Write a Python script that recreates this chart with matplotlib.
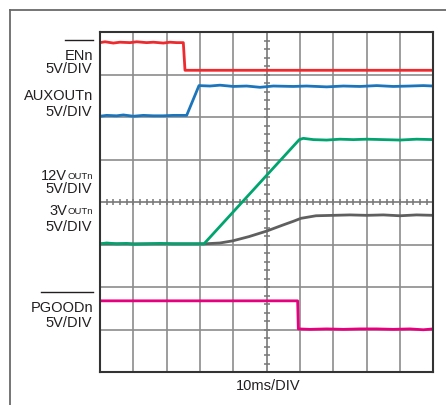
import matplotlib
matplotlib.use("Agg")
import matplotlib.pyplot as plt
from matplotlib.lines import Line2D
from matplotlib.font_manager import FontProperties
from matplotlib.textpath import TextPath
import numpy as np

plt.rcParams['font.family'] = ['Liberation Sans', 'DejaVu Sans']

# scope traces, in divisions (x: 10 div, y: 8 div from bottom)
t_en = [0, 0.15, 0.4, 0.6, 0.9, 1.1, 1.4, 1.6, 1.9, 2.1, 2.3, 2.50, 2.55, 3.0, 10]
v_en = [7.75, 7.77, 7.74, 7.76, 7.75, 7.77, 7.75, 7.76, 7.74, 7.76, 7.75, 7.75, 7.10, 7.10, 7.10]

t_aux = [0, 0.2, 0.5, 0.7, 1.0, 1.3, 1.6, 1.9, 2.2, 2.6, 2.97, 3.3, 3.6, 4.0, 4.4,
         4.8, 5.2, 5.8, 6.2, 6.8, 7.3, 7.8, 8.3, 8.8, 9.3, 9.7, 10]
v_aux = [6.02, 6.04, 6.03, 6.05, 6.02, 6.04, 6.03, 6.03, 6.04, 6.04, 6.74, 6.73, 6.75,
         6.72, 6.73, 6.70, 6.73, 6.72, 6.73, 6.71, 6.73, 6.72, 6.74, 6.72, 6.73, 6.74, 6.73]

t_12v = [0, 0.2, 0.5, 0.8, 1.0, 1.4, 1.8, 2.2, 2.6, 3.0, 3.12, 5.98, 6.1, 6.4, 6.8,
         7.2, 7.6, 8.0, 8.5, 9.0, 9.5, 10]
v_12v = [3.02, 3.04, 3.02, 3.03, 3.01, 3.02, 3.03, 3.02, 3.02, 3.02, 3.02, 5.47, 5.50,
         5.47, 5.46, 5.48, 5.47, 5.48, 5.47, 5.46, 5.48, 5.47]

t_3v = [0, 1, 2, 3.12, 3.6, 3.98, 4.47, 5.0, 5.48, 5.8, 6.03, 6.48, 7.0, 7.5, 8.0,
        8.5, 9.0, 9.5, 10]
v_3v = [3.02, 3.02, 3.02, 3.02, 3.04, 3.09, 3.19, 3.32, 3.46, 3.55, 3.62, 3.68, 3.69,
        3.70, 3.69, 3.70, 3.68, 3.70, 3.69]

t_pg = [0, 5.93, 5.95, 6.3, 6.8, 7.3, 7.8, 8.3, 8.8, 9.3, 9.7, 10]
v_pg = [1.68, 1.68, 1.02, 1.01, 1.02, 1.01, 1.02, 1.02, 1.01, 1.02, 1.00, 1.02]

# channel labels: (main text, subscript, overline skip prefix or None, baseline px)
labels = [
    ('ENn', '', '', 60),
    ('5V/DIV', '', None, 73),
    ('AUXOUTn', '', None, 99.5),
    ('5V/DIV', '', None, 116),
    ('12V', 'OUTn', None, 180),
    ('5V/DIV', '', None, 193.5),
    ('3V', 'OUTn', None, 215.5),
    ('5V/DIV', '', None, 231),
    ('PGOODn', '', 'P', 312.5),
    ('5V/DIV', '', None, 327.5),
]

W, H = 446, 406
FS = 10.5
FS_SUB = 6.8
INK = '#231f20'
FP = FontProperties(family='Liberation Sans')


def text_px(s, size):
    # ink extent of a string in pixels at 100 dpi
    ext = TextPath((0, 0), s, size=size, prop=FP).get_extents()
    return ext.x0 * 100 / 72, ext.x1 * 100 / 72


fig = plt.figure(figsize=(W / 100, H / 100), dpi=100)
ax = fig.add_axes([100 / W, 1 - 373.3 / H, 333.3 / W, 340.3 / H])

ax.set_xlim(0, 10)
ax.set_ylim(0, 8)
ax.set_xticks(np.arange(0, 11, 1))
ax.set_yticks(np.arange(0, 9, 1))
ax.tick_params(length=0, labelbottom=False, labelleft=False)
ax.grid(True, color='#8c8c8c', linewidth=1.2)
for s in ax.spines.values():
    s.set_color('#333333')
    s.set_linewidth(1.5)

# center graticule with minor divisions
ax.axvline(5, color='#8c8c8c', linewidth=1.2)
ax.axhline(4, color='#8c8c8c', linewidth=1.2)
minor_x = np.arange(0, 10.01, 0.2)
minor_y = np.arange(0, 8.01, 0.2)
ax.plot(minor_x, np.full_like(minor_x, 4), '|', color='#777777', ms=5, mew=1.1, clip_on=False)
ax.plot(np.full_like(minor_y, 5), minor_y, '_', color='#777777', ms=5, mew=1.1, clip_on=False)

lw = 2.0
ax.plot(t_3v, v_3v, color='#5f5f5f', lw=lw, solid_joinstyle='round')
ax.plot(t_12v, v_12v, color='#00a46e', lw=lw, solid_joinstyle='round')
ax.plot(t_aux, v_aux, color='#1b75bc', lw=lw, solid_joinstyle='round')
ax.plot(t_en, v_en, color='#ee2a2e', lw=lw, solid_joinstyle='round')
ax.plot(t_pg, v_pg, color='#e6007e', lw=lw, solid_joinstyle='round')

# labels are laid out left-to-right from a computed start so the right edge lands at x=92
x_right = 92
for main, sub, skip, yb in labels:
    m0, m1 = text_px(main, FS)
    s0, s1 = text_px(sub, FS_SUB) if sub else (0, 0)
    total = m1 + (s1 + 0.5 if sub else 0)
    x0 = x_right - total
    fig.text(x0 / W, 1 - yb / H, main, ha='left', va='baseline', fontsize=FS,
             color=INK)
    if sub:
        fig.text((x0 + m1 + 0.5) / W, 1 - (yb - 1) / H, sub, ha='left',
                 va='baseline', fontsize=FS_SUB, color=INK)
    if skip is not None:
        xb = x0 + (text_px(skip, FS)[1] + 1 if skip else m0 - 0.5)
        ybar = yb - 19.5
        fig.add_artist(Line2D([xb / W, (x0 + m1 + 0.5) / W],
                              [1 - ybar / H, 1 - ybar / H], color=INK, lw=1.0))

fig.text(268 / W, 1 - 390 / H, '10ms/DIV', ha='center', va='baseline', fontsize=FS,
         color=INK)

# outer panel border (top and left)
fig.add_artist(Line2D([10 / W, 1], [1 - 11 / H, 1 - 11 / H], color='#6a6a6a', lw=1.3))
fig.add_artist(Line2D([10 / W, 10 / W], [0, 1 - 11 / H], color='#6a6a6a', lw=1.3))

fig.savefig('out.png', dpi=100)
